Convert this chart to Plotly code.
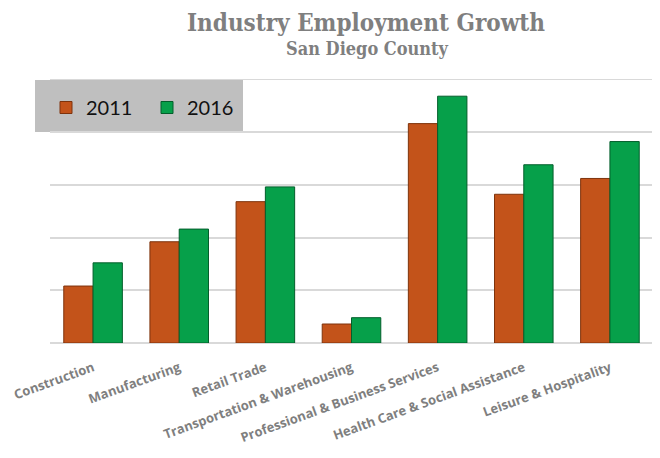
import plotly.graph_objects as go

categories = ["Construction", "Manufacturing", "Retail Trade", "Transportation & Warehousing",
              "Professional & Business Services", "Health Care & Social Assistance",
              "Leisure & Hospitality"]
emp_2011 = [54000, 96000, 134000, 18000, 208000, 141000, 156000]
emp_2016 = [76000, 108000, 148000, 24000, 234000, 169000, 191000]
grid_vals = [0, 50000, 100000, 150000, 200000, 250000]

fig = go.Figure()
fig.add_trace(go.Bar(name="2011", x=categories, y=emp_2011,
                     marker=dict(color="#C3531A", line=dict(color="#7E330C", width=1))))
fig.add_trace(go.Bar(name="2016", x=categories, y=emp_2016,
                     marker=dict(color="#06A04A", line=dict(color="#035E2B", width=1))))

OFF = 8  # page body offset
# target plot area in screenshot pixels: x 50..653, y 79..343
L, R, T, B = 50 - OFF, 660 - 653 + OFF, 79 - OFF, 458 - 343 + OFF
PW, PH = 603, 264

def px(xs):  # screenshot x -> paper
    return (xs - 50) / PW

def py(ys):  # screenshot y -> paper
    return (343 - ys) / PH

fig.update_layout(
    width=660, height=458,
    margin=dict(l=L, r=R, t=T, b=B, autoexpand=False),
    paper_bgcolor="white", plot_bgcolor="white",
    barmode="group", bargap=0.32, bargroupgap=0,
    annotations=[
        dict(text="<b>Industry Employment Growth</b>", xref="paper", yref="paper",
             x=px(366), y=py(22), xanchor="center", yanchor="middle", showarrow=False,
             font=dict(family="DejaVu Serif Condensed, serif", size=24, color="#7F7F7F")),
        dict(text="<b>San Diego County</b>", xref="paper", yref="paper",
             x=px(367), y=py(48), xanchor="center", yanchor="middle", showarrow=False,
             font=dict(family="DejaVu Serif Condensed, serif", size=18, color="#7F7F7F")),
    ],
    legend=dict(orientation="h", x=px(46), y=py(88), xanchor="left", yanchor="top",
                bgcolor="rgba(0,0,0,0)", font=dict(family="Lato, Open Sans, sans-serif", size=20, color="#111111"),
                traceorder="normal", entrywidth=56, tracegroupgap=0),
    shapes=[
        dict(type="line", xref="paper", yref="y", x0=0, x1=1, y0=grid_vals[-1], y1=grid_vals[-1],
             line=dict(color="#D9D9D9", width=1.5), layer="below"),
        dict(type="rect", xref="paper", yref="paper", x0=px(35), x1=px(243),
             y0=py(132), y1=py(80), fillcolor="#BFBFBF", line=dict(width=0), layer="below"),
    ],
    showlegend=True,
)
fig.update_xaxes(tickangle=-20, tickfont=dict(family="Open Sans, sans-serif", size=13, color="#7F7F7F", weight="bold"),
                 showline=False, ticks="", showgrid=False, automargin=False, ticklabelstandoff=14)
fig.update_yaxes(range=[0, 250300], tickvals=grid_vals,
                 showticklabels=False, showgrid=True,
                 gridcolor="#D9D9D9", gridwidth=1.5, zeroline=True, zerolinecolor="#D9D9D9",
                 zerolinewidth=1.5, showline=False, ticks="", automargin=False)

fig.write_html("out.html")
